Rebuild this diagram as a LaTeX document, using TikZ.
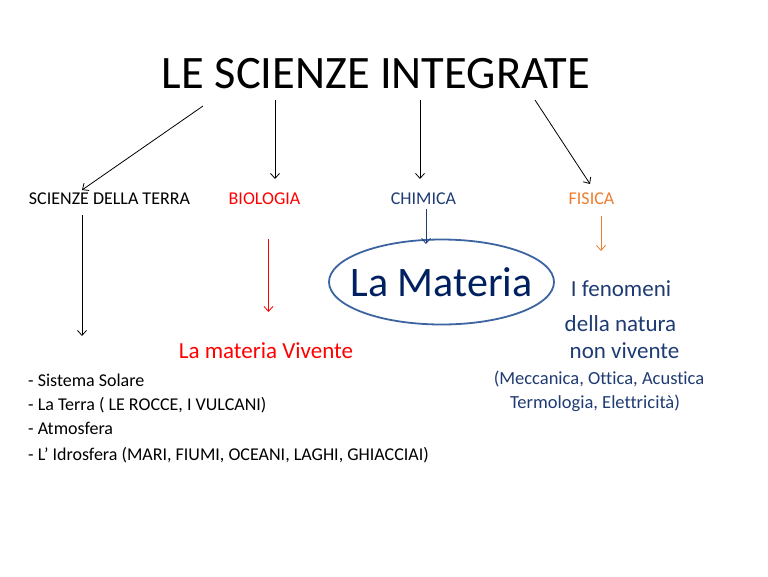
\documentclass[tikz,border=0pt]{standalone}
\usepackage{fontspec}
\setmainfont{Carlito}[Ligatures=NoCommon]
\usetikzlibrary{arrows.meta,shapes.geometric}
\definecolor{biologia}{HTML}{FF0000}
\definecolor{chimica}{HTML}{1F3B73}
\definecolor{fisica}{HTML}{ED7D31}
\definecolor{materia}{HTML}{002060}
\definecolor{bordo}{HTML}{3C64A0}
\begin{document}
\begin{tikzpicture}[x=1pt,y=-1pt,
    freccia/.style={-{Straight Barb[length=5pt,width=9pt]},line width=0.8pt},
    voce/.style={anchor=base,inner sep=0pt,font=\fontsize{18}{22}\selectfont},
    elenco/.style={anchor=base west,inner sep=0pt,font=\fontsize{18}{22}\selectfont},
    testo/.style={anchor=base,inner sep=0pt,font=\fontsize{23}{28}\selectfont}]
      \useasboundingbox (0,0) rectangle (768,576);
      \node[anchor=base,inner sep=0pt,font=\fontsize{46.5}{56}\selectfont] (titolo) at (376,88) {LE SCIENZE INTEGRATE};
      \node[voce] (terra) at (109.5,204) {SCIENZE DELLA TERRA};
      \node[voce,text=biologia] (bio) at (264.5,204) {BIOLOGIA};
      \node[voce,text=chimica] (chim) at (423.5,204) {CHIMICA};
      \node[voce,text=fisica] (fis) at (591.5,204) {FISICA};
      \coordinate (a1) at (203,106);
      \coordinate (b1) at (82,190);
      \coordinate (a2) at (275,100);
      \coordinate (b2) at (275,179);
      \coordinate (a3) at (420,100);
      \coordinate (b3) at (420,179);
      \coordinate (a4) at (535,100);
      \coordinate (b4) at (590,184);
      \draw[freccia] (a1) -- (b1);
      \draw[freccia] (a2) -- (b2);
      \draw[freccia] (a3) -- (b3);
      \draw[freccia] (a4) -- (b4);
      \node[inner sep=0pt,text=materia,font=\fontsize{42}{50}\selectfont] (materia) at (441.5,282) {La Materia};
      \draw[bordo,line width=1.8pt] (materia.center) ellipse [x radius=112.5pt,y radius=42.5pt];
      \coordinate (t1) at (82,215);
      \coordinate (t2) at (82,336);
      \coordinate (r1) at (268.5,239);
      \coordinate (r2) at (268.5,312);
      \coordinate (c1) at (426,209);
      \coordinate (c2) at (426,244);
      \coordinate (f1) at (601,216);
      \coordinate (f2) at (601,251);
      \draw[freccia] (t1) -- (t2);
      \draw[freccia,biologia] (r1) -- (r2);
      \draw[freccia,chimica] (c1) -- (c2);
      \draw[freccia,fisica] (f1) -- (f2);
      \node[testo,text=biologia] (vivente) at (266,358) {La materia Vivente};
      \node[testo,text=chimica] (fen1) at (621,296) {I fenomeni};
      \node[testo,text=chimica] (fen2) at (620.5,331) {della natura};
      \node[testo,text=chimica] (fen3) at (624.5,358) {non vivente};
      \node[voce,text=chimica,font=\fontsize{18.5}{22}\selectfont] (fen4) at (599,384) {(Meccanica, Ottica, Acustica};
      \node[voce,text=chimica,font=\fontsize{18.5}{22}\selectfont] (fen5) at (595,408.5) {Termologia, Elettricità)};
      \node[elenco] (el1) at (28,386) {- Sistema Solare};
      \node[elenco] (el2) at (28,410) {- La Terra ( LE ROCCE, I VULCANI)};
      \node[elenco] (el3) at (28,434) {- Atmosfera};
      \node[elenco] (el4) at (28,460) {- L’ Idrosfera (MARI, FIUMI, OCEANI, LAGHI, GHIACCIAI)};
\end{tikzpicture}
\end{document}
